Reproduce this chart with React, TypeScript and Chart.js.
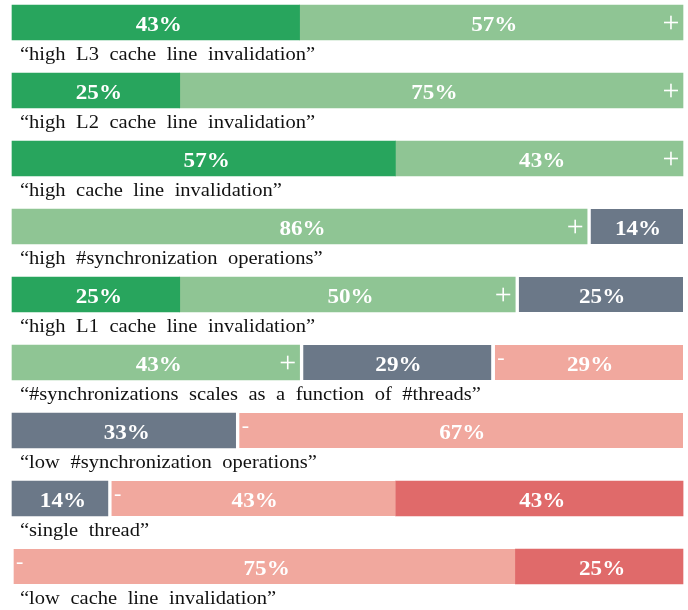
import React, { useEffect, useRef } from "react";
import { Chart, registerables } from "chart.js";

Chart.register(...registerables);

const categories = [
  "“high L3 cache line invalidation”",
  "“high L2 cache line invalidation”",
  "“high cache line invalidation”",
  "“high #synchronization operations”",
  "“high L1 cache line invalidation”",
  "“#synchronizations scales as a function of #threads”",
  "“low #synchronization operations”",
  "“single thread”",
  "“low cache line invalidation”",
];

const darkGreenValues = [42.86, 25, 57.14, 0, 25, 0, 0, 0, 0];
const lightGreenValues = [57.14, 75, 42.86, 85.71, 50, 42.86, 0, 0, 0];
const slateValues = [0, 0, 0, 14.29, 25, 28.57, 33.33, 14.29, 0];
const salmonValues = [0, 0, 0, 0, 0, 28.57, 66.67, 42.86, 75];
const redValues = [0, 0, 0, 0, 0, 0, 0, 42.86, 25];

const seriesColors = ["#28a55d", "#8fc594", "#6b7888", "#f1a89e", "#e06a6a"];
const seriesMarkers = ["", "+", "", "-", ""];
const seriesGap = [false, false, true, true, false];

export default function App() {
  const ref = useRef<HTMLCanvasElement | null>(null);

  useEffect(() => {
    if (!ref.current) return;
    const all = [darkGreenValues, lightGreenValues, slateValues, salmonValues, redValues];

    const labelPlugin = {
      id: "labelPlugin",
      afterDatasetsDraw(chart: any) {
        const ctx = chart.ctx as CanvasRenderingContext2D;
        const yScale = chart.scales.y;
        ctx.save();
        // category texts below bars
        ctx.fillStyle = "#111";
        ctx.font = '19px "Liberation Serif"';
        ctx.textAlign = "left";
        ctx.textBaseline = "alphabetic";
        (ctx as any).wordSpacing = "5px";
        categories.forEach((c, i) => {
          const y = yScale.getPixelForValue(i);
          ctx.save();
          ctx.translate(chart.chartArea.left + 8, y + 37);
          ctx.scale(1.08, 1);
          ctx.fillText(c, 0, 0);
          ctx.restore();
        });
        (ctx as any).wordSpacing = "0px";
        // segment labels and markers
        chart.data.datasets.forEach((ds: any, di: number) => {
          const meta = chart.getDatasetMeta(di);
          meta.data.forEach((el: any, i: number) => {
            const v = ds.data[i];
            if (!v) return;
            const start = Math.min(el.base, el.x);
            const end = Math.max(el.base, el.x);
            const cy = el.y;
            ctx.fillStyle = "#ffffff";
            ctx.font = 'bold 21px "Liberation Serif"';
            ctx.textAlign = "center";
            ctx.save();
            ctx.translate((start + end) / 2 + 3, cy + 8);
            ctx.scale(1.1, 1);
            ctx.fillText(Math.round(v) + "%", 0, 0);
            ctx.restore();
            const m = seriesMarkers[di];
            if (m === "+") {
              ctx.font = '30px "Liberation Serif"';
              ctx.textAlign = "center";
              ctx.fillText("+", end - 12, cy + 9.5);
            } else if (m === "-") {
              ctx.font = '22px "Liberation Serif"';
              ctx.textAlign = "left";
              const gap = all.slice(0, di).some((a) => a[i] > 0) ? 4 : 2;
              ctx.fillText("-", start + gap + 2, cy + 1.5);
            }
          });
        });
        ctx.restore();
      },
    };

    const datasets = all.map((vals, di) => ({
      label: "s" + di,
      data: vals.map((v) => (v > 0 ? v : null)),
      backgroundColor: seriesColors[di],
      borderColor: "#ffffff",
      borderSkipped: false,
      barThickness: 35,
      clip: false,
      borderWidth: (c: any) => {
        const i = c.dataIndex;
        if (!seriesGap[di] || !vals[i]) return 0;
        const preceded = all.slice(0, di).some((a) => a[i] > 0);
        if (preceded) return { left: 4, right: 0, top: 0, bottom: 0 };
        return di === 3 ? { left: 2, right: 0, top: 0, bottom: 0 } : 0;
      },
    }));

    const chart = new Chart(ref.current, {
      type: "bar",
      data: { labels: categories, datasets: datasets as any },
      options: {
        indexAxis: "y",
        animation: false,
        responsive: false,
        devicePixelRatio: 1,
        layout: { padding: { left: 12, right: 5, top: 22.5, bottom: 43.5 } },
        scales: {
          x: { stacked: true, min: 0, max: 100, display: false },
          y: { stacked: true, display: false, offset: false },
        },
        plugins: { legend: { display: false }, tooltip: { enabled: false } },
      },
      plugins: [labelPlugin],
    });
    return () => chart.destroy();
  }, []);

  return (
    <div style={{ position: "absolute", left: 0, top: 0, width: 688, height: 610, background: "#fff" }}>
      <canvas ref={ref} width={688} height={610} style={{ display: "block" }} />
    </div>
  );
}
